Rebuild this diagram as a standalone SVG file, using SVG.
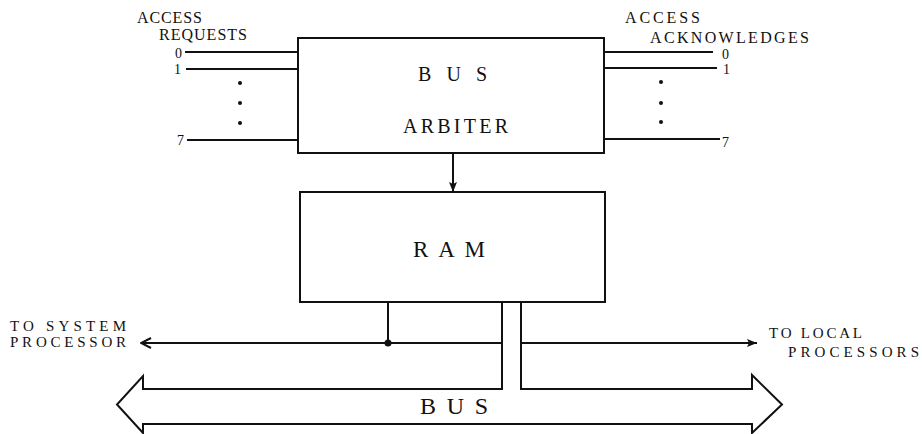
<svg xmlns="http://www.w3.org/2000/svg" width="922" height="434" viewBox="0 0 922 434">
<style>
  text { font-family: "Liberation Serif", "DejaVu Serif", "Noto Serif", serif; fill: #111; }
  .lbl { font-size: 16px; }
  .sm { font-size: 15px; }
  .num { font-size: 14px; }
  .big { font-size: 20px; }
  .box { fill: #fff; stroke: #111; stroke-width: 2; }
  .ln { fill: none; stroke: #111; stroke-width: 2; }
  .dot { fill: #111; }
</style>
<defs>
  <marker id="fa" viewBox="0 0 10 10" refX="10" refY="5" markerWidth="10" markerHeight="10" markerUnits="userSpaceOnUse" orient="auto">
    <path d="M0,1 L10,5 L0,9 L2,5 z" fill="#111"/>
  </marker>
  <marker id="oa" viewBox="0 0 12 12" refX="11" refY="6" markerWidth="12" markerHeight="12" markerUnits="userSpaceOnUse" orient="auto">
    <path d="M1,1 L11,6 L1,11" fill="none" stroke="#111" stroke-width="2"/>
  </marker>
</defs>
<rect width="922" height="434" fill="#fff"/>

<g id="arbiter">
  <rect class="box" x="298" y="38" width="306" height="115"/>
  <text class="big" x="418" y="81" textLength="69" lengthAdjust="spacing">B U S</text>
  <text class="big" x="403" y="133" textLength="105" lengthAdjust="spacing">ARBITER</text>
</g>

<g id="ram">
  <rect class="box" x="300" y="192" width="305" height="110"/>
  <text class="big" x="413" y="257" textLength="72" lengthAdjust="spacing" style="font-size:23px">R A M</text>
</g>

<g id="bus">
  <path class="ln" d="M502,389 L143,389 L143,376 L117,404.5 L143,433 L143,424 L752,424 L752,433 L782,404.5 L752,375 L752,389 L521,389"/>
  <text class="big" x="420" y="414" textLength="68" lengthAdjust="spacing" style="font-size:24px">B U S</text>
</g>

<g id="requests">
  <text class="lbl" x="137" y="23" textLength="65" lengthAdjust="spacing">ACCESS</text>
  <text class="lbl" x="159" y="40" textLength="88" lengthAdjust="spacing">REQUESTS</text>
  <text class="num" x="175" y="58">0</text>
  <text class="num" x="174" y="74">1</text>
  <text class="num" x="177" y="145">7</text>
</g>

<g id="acknowledges">
  <text class="lbl" x="625" y="23" textLength="75" lengthAdjust="spacing">ACCESS</text>
  <text class="lbl" x="650" y="43" textLength="159" lengthAdjust="spacing">ACKNOWLEDGES</text>
  <text class="num" x="722" y="59">0</text>
  <text class="num" x="723" y="74">1</text>
  <text class="num" x="722" y="147">7</text>
</g>

<g id="system-processor">
  <text class="sm" x="10" y="331" textLength="116" lengthAdjust="spacing">TO SYSTEM</text>
  <text class="sm" x="10" y="347" textLength="116" lengthAdjust="spacing">PROCESSOR</text>
</g>

<g id="local-processors">
  <text class="sm" x="769" y="338" textLength="93" lengthAdjust="spacing">TO LOCAL</text>
  <text class="sm" x="788" y="357" textLength="131" lengthAdjust="spacing">PROCESSORS</text>
</g>

<g id="connectors">
  <line class="ln" x1="185" y1="52" x2="298" y2="52"/>
  <line class="ln" x1="186" y1="69" x2="298" y2="69"/>
  <line class="ln" x1="187" y1="140" x2="298" y2="140"/>
  <circle class="dot" cx="240" cy="83" r="2"/>
  <circle class="dot" cx="240" cy="103" r="2"/>
  <circle class="dot" cx="240" cy="123" r="2"/>

  <line class="ln" x1="604" y1="52" x2="713" y2="52"/>
  <line class="ln" x1="604" y1="68" x2="717" y2="68"/>
  <line class="ln" x1="604" y1="139" x2="720" y2="139"/>
  <circle class="dot" cx="661" cy="82" r="2"/>
  <circle class="dot" cx="661" cy="103" r="2"/>
  <circle class="dot" cx="661" cy="122" r="2"/>

  <line class="ln" x1="453" y1="153" x2="453" y2="192" marker-end="url(#fa)"/>

  <line class="ln" x1="388" y1="302" x2="388" y2="343"/>
  <line class="ln" x1="502" y1="343" x2="141" y2="343" marker-end="url(#oa)"/>
  <circle class="dot" cx="388" cy="343" r="3.5"/>
  <line class="ln" x1="502" y1="302" x2="502" y2="390"/>
  <line class="ln" x1="521" y1="302" x2="521" y2="390"/>
  <line class="ln" x1="521" y1="343" x2="757" y2="343" marker-end="url(#fa)"/>
</g>
</svg>
